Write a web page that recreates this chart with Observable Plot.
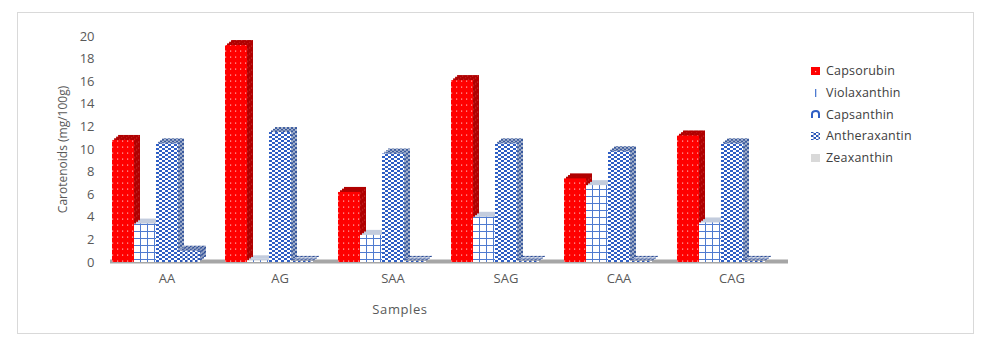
<!DOCTYPE html>
<html>
<head>
<meta charset="utf-8">
<script src="https://cdn.jsdelivr.net/npm/d3@7"></script>
<script src="https://cdn.jsdelivr.net/npm/@observablehq/plot@0.6"></script>
<style>
  html, body { margin: 0; padding: 0; background: #ffffff; }
  #wrap { position: relative; width: 990px; height: 346px; overflow: hidden; font-family: "Open Sans", sans-serif; }
  #frame { position: absolute; left: 17px; top: 12px; width: 957px; height: 322px; border: 1px solid #D9D9D9; box-sizing: border-box; }
  #xtitle { position: absolute; left: 360px; top: 300px; width: 80px; text-align: center; font-size: 13px; color: #595959; letter-spacing: 0.6px; }
  #legend { position: absolute; left: 811px; top: 60px; font-size: 12.5px; color: #404040; letter-spacing: 0.2px; }
  #legend .row { display: flex; align-items: center; height: 21.7px; white-space: nowrap; }
  #legend svg { margin-right: 5px; }
</style>
</head>
<body>
<div id="wrap">
  <div id="frame"></div>
  <div id="chart"></div>
  <div id="xtitle">Samples</div>
  <div id="legend"></div>
</div>
<script>
// ---- data ----
const samples = ["AA", "AG", "SAA", "SAG", "CAA", "CAG"];
const seriesNames = ["Capsorubin", "Violaxanthin", "Capsanthin", "Antheraxantin", "Zeaxanthin"];
const capsorubin = [10.8, 19.2, 6.2, 16.1, 7.4, 11.2];
const violaxanthin = [3.4, 0.15, 2.4, 4.0, 6.8, 3.5];
const capsanthin = [10.5, 11.5, 9.6, 10.5, 9.8, 10.5];
const antheraxantin = [1.0, 0.1, 0.1, 0.1, 0.1, 0.1];
const zeaxanthin = [0, 0, 0, 0, 0, 0];
const yTicks = [0, 2, 4, 6, 8, 10, 12, 14, 16, 18, 20];

const seriesValues = [capsorubin, violaxanthin, capsanthin, antheraxantin, zeaxanthin];
const rows = [];
samples.forEach((s, i) => seriesNames.forEach((n, j) => rows.push({sample: s, series: n, value: seriesValues[j][i]})));

const frontFill = ["url(#p-caps-f)", "url(#p-viol-f)", "url(#p-capn-f)", "url(#p-anth-f)", "#D9D9D9"];
const backFill  = ["url(#p-caps-b)", "#C3CCDD", "url(#p-capn-b)", "url(#p-anth-b)", "#BFBFBF"];
const depth = [[2, -1.7], [4, -3.3], [6, -5]];

const defsMarkup = `
<pattern id="p-caps-f" patternUnits="userSpaceOnUse" width="5" height="6">
  <rect width="5" height="6" fill="#FF0000"/><rect x="2" y="2.5" width="1.2" height="1.2" fill="#FFB0B0"/>
</pattern>
<pattern id="p-caps-b" patternUnits="userSpaceOnUse" width="5" height="6">
  <rect width="5" height="6" fill="#B00000"/><rect x="2" y="2.5" width="1.2" height="1.2" fill="#C83030"/>
</pattern>
<pattern id="p-viol-f" patternUnits="userSpaceOnUse" width="7" height="7">
  <rect width="7" height="7" fill="#FFFFFF"/><path d="M0 0.5H7M0.5 0V7" stroke="#4F7BD0" stroke-width="1"/>
</pattern>
<pattern id="p-capn-f" patternUnits="userSpaceOnUse" width="6" height="4">
  <rect width="6" height="4" fill="#FFFFFF"/><rect x="0" y="0" width="3" height="2" fill="#2F5FC4"/><rect x="3" y="2" width="3" height="2" fill="#2F5FC4"/>
</pattern>
<pattern id="p-capn-b" patternUnits="userSpaceOnUse" width="4" height="4">
  <rect width="4" height="4" fill="#A8B4CC"/><rect x="0" y="0" width="2" height="2" fill="#3A5A9E"/><rect x="2" y="2" width="2" height="2" fill="#3A5A9E"/>
</pattern>
<pattern id="p-anth-f" patternUnits="userSpaceOnUse" width="5" height="4">
  <rect width="5" height="4" fill="#FFFFFF"/><rect x="0" y="0" width="2.5" height="2" fill="#2A56B8"/><rect x="2.5" y="2" width="2.5" height="2" fill="#2A56B8"/>
</pattern>
<pattern id="p-anth-b" patternUnits="userSpaceOnUse" width="4" height="4">
  <rect width="4" height="4" fill="#9AA8C6"/><path d="M0 4L4 0" stroke="#2C4C98" stroke-width="1.4"/>
</pattern>`;

const barMarks = [];
seriesNames.forEach((n, j) => {
  depth.slice().reverse().forEach(([dx, dy]) => {
    barMarks.push(Plot.barY(rows, {filter: d => d.series === n, fx: "sample", x: "series", y: "value", fill: backFill[j], dx, dy, inset: 0}));
  });
});
seriesNames.forEach((n, j) => {
  barMarks.push(Plot.barY(rows, {filter: d => d.series === n, fx: "sample", x: "series", y: "value", fill: frontFill[j], inset: 0}));
});

const chart = Plot.plot({
  width: 990,
  height: 346,
  marginLeft: 110,
  marginRight: 202,
  marginTop: 36,
  marginBottom: 84,
  style: {fontFamily: "Open Sans, sans-serif", fontSize: "13px", color: "#595959", background: "transparent"},
  fx: {domain: samples, padding: 0, label: null, axis: "bottom", tickSize: 0, tickPadding: 11},
  x: {domain: seriesNames, padding: 0, axis: null},
  y: {domain: [0, 20], ticks: yTicks, tickSize: 0, tickPadding: 16, label: "Carotenoids (mg/100g)", labelAnchor: "center", labelOffset: 52, labelArrow: false, tickFormat: d => String(d)},
  marks: [
    Plot.ruleY([0], {stroke: "#A6A6A6", strokeWidth: 4, dy: -1}),
    ...barMarks
  ]
});

const defs = document.createElementNS("http://www.w3.org/2000/svg", "defs");
defs.innerHTML = defsMarkup;
chart.insertBefore(defs, chart.firstChild);
chart.style.position = "absolute";
chart.style.left = "0px";
chart.style.top = "0px";
// y-axis title slightly smaller than tick labels, as in the reference
d3.select(chart).selectAll("text").filter(function () { return this.textContent === "Carotenoids (mg/100g)"; }).style("font-size", "12px");
document.getElementById("chart").appendChild(chart);

// legend
const legendSwatch = [
  `<rect x="0" y="1" width="9" height="8" fill="#FF0000"/><rect x="4" y="5" width="1.2" height="1.2" fill="#FFB0B0"/>`,
  `<rect x="4" y="1" width="1.3" height="8" fill="#4F7BD0"/>`,
  `<path d="M1 9V5Q1 2 5 2Q8 2 8 5V9" fill="none" stroke="#2F5FC4" stroke-width="2"/>`,
  `<rect x="0" y="1" width="9" height="8" fill="url(#p-anth-f)"/>`,
  `<rect x="0" y="1" width="9" height="8" fill="#D9D9D9"/>`
];
const lg = d3.select("#legend");
seriesNames.forEach((n, j) => {
  const r = lg.append("div").attr("class", "row");
  r.append("svg").attr("width", 10).attr("height", 10).html(legendSwatch[j]);
  r.append("span").text(n);
});
</script>
</body>
</html>
